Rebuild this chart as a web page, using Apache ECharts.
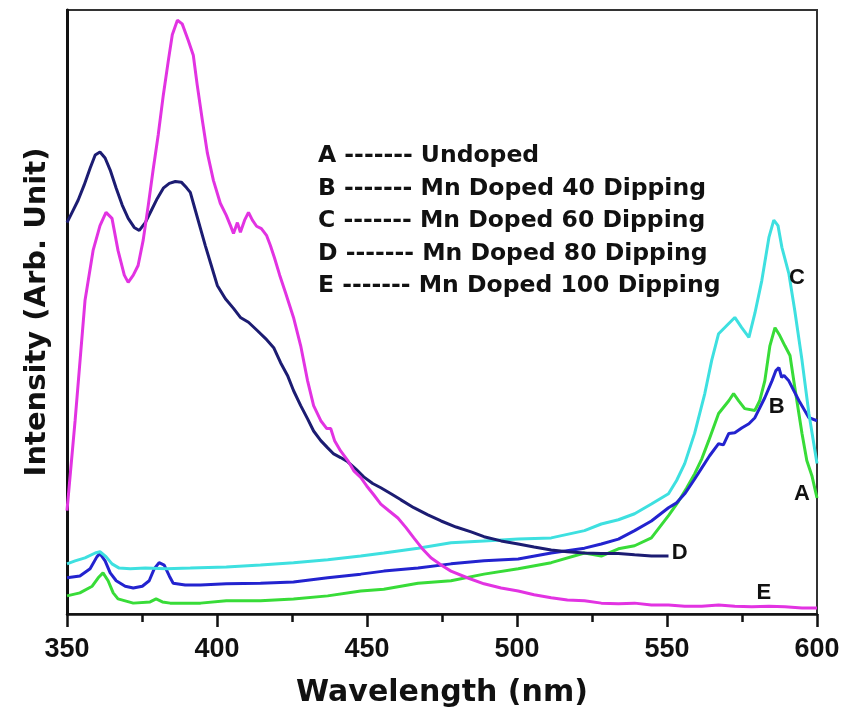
<!DOCTYPE html>
<html>
<head>
<meta charset="utf-8">
<script src="https://cdn.jsdelivr.net/npm/echarts@6/dist/echarts.min.js"></script>
<style>html,body{margin:0;padding:0;background:#fff}#main{width:845px;height:721px}</style>
</head>
<body>
<div id="main"></div>
<script>
// Wavelength ticks (nm)
const xTicks = [350, 400, 450, 500, 550, 600];

// A - Undoped (green)
const seriesA = [[350,3.0],[354.3,3.5],[358.4,4.6],[360.4,6.0],[362,6.8],[363.7,5.5],[365.4,3.5],[367,2.5],[372.1,1.8],[377.7,2.0],[379.7,2.5],[381.8,2.0],[384.4,1.8],[394.5,1.8],[403.1,2.2],[414.5,2.2],[425.5,2.5],[436.9,3.0],[447.9,3.8],[455.6,4.1],[467,5.1],[478,5.5],[489,6.6],[500.4,7.5],[511.4,8.5],[522.5,10.1],[528.1,9.6],[533.8,10.8],[539.2,11.3],[544.8,12.6],[550.5,16.3],[553.9,18.7],[556.6,20.9],[559.2,23.2],[561.6,25.7],[563.9,28.7],[567.2,33.2],[570.6,35.3],[572.2,36.5],[573.9,35.3],[575.9,34.0],[579.3,33.7],[580.9,35.3],[582.6,38.6],[584.3,44.4],[586,47.4],[587.6,46.1],[589.3,44.4],[591,42.8],[592.6,37.5],[595,29.9],[596.6,25.4],[598.3,22.9],[600,19.2]];

// B - Mn Doped 40 Dipping (blue)
const seriesB = [[350,6.0],[354.3,6.3],[357.7,7.5],[360,9.5],[361,10.0],[362.7,8.8],[364.4,6.8],[366.4,5.5],[369.4,4.6],[372.1,4.3],[375.1,4.6],[377.4,5.5],[379.1,7.5],[380.7,8.5],[382.4,8.1],[384.1,6.3],[385.4,5.1],[389.4,4.8],[394.5,4.8],[403.1,5.0],[414.5,5.1],[425.5,5.3],[436.9,6.0],[447.9,6.6],[455.6,7.1],[467,7.6],[478,8.3],[489,8.8],[500.4,9.1],[511.4,10.1],[522.5,10.9],[528.1,11.6],[533.8,12.4],[539.2,13.8],[544.8,15.4],[550.5,17.6],[553.2,18.4],[555.9,19.9],[558.9,22.1],[561.6,24.2],[564.2,26.2],[567.2,28.2],[568.8,28.0],[570.6,29.9],[572.6,30.0],[574.9,30.8],[577.3,31.5],[579.3,32.5],[582.6,35.8],[585,38.6],[586.3,40.3],[587.3,40.8],[588.2,39.2],[589,39.5],[590.6,38.6],[594,35.3],[597.3,32.5],[600,32.0]];

// C - Mn Doped 60 Dipping (cyan)
const seriesC = [[350,8.3],[352.7,8.8],[356,9.3],[359.4,10.1],[361,10.3],[363,9.5],[365,8.3],[367.4,7.6],[371.1,7.5],[376.1,7.6],[383.1,7.5],[391.1,7.6],[403.1,7.8],[414.5,8.1],[425.5,8.5],[436.9,9.0],[447.9,9.6],[455.6,10.1],[467,10.9],[478,11.8],[489,12.1],[500.4,12.4],[511.4,12.6],[522.5,13.8],[528.1,14.9],[533.8,15.6],[539.2,16.6],[544.8,18.2],[550.5,19.9],[553.2,22.1],[555.9,24.9],[559.2,29.9],[562.6,36.5],[564.9,42.0],[567.2,46.4],[570.6,48.1],[572.6,49.1],[574.9,47.4],[577.3,45.8],[579.3,49.8],[581.6,55.2],[584,62.4],[585.6,65.2],[587,64.3],[588.3,60.7],[590.6,56.4],[592.6,50.2],[595,42.0],[597.3,33.2],[600,24.9]];

// D - Mn Doped 80 Dipping (navy)
const seriesD = [[350,64.8],[351.7,66.5],[353.7,68.5],[355.7,71.0],[357.7,73.8],[359.4,76.0],[361,76.5],[362.7,75.5],[364.4,73.5],[366.4,70.5],[368.4,67.7],[370.4,65.5],[372.4,64.0],[374.1,63.5],[376.1,64.8],[378.1,66.8],[380.1,68.8],[382.1,70.5],[384.1,71.3],[386.1,71.6],[388.1,71.5],[389.8,70.6],[391.1,69.8],[392.8,66.8],[394.5,63.8],[396.1,61.0],[397.8,58.2],[400.1,54.4],[402.8,52.2],[405.5,50.6],[407.8,49.1],[410.5,48.3],[413.5,46.9],[416.2,45.6],[418.9,44.1],[421.2,41.6],[423.5,39.5],[425.5,37.0],[427.9,34.5],[430.2,32.3],[432.2,30.3],[434.6,28.7],[436.9,27.5],[438.9,26.5],[441.2,25.9],[443.6,25.2],[446.3,24.0],[448.9,22.7],[451.9,21.6],[454.6,20.9],[458,19.9],[461.3,18.9],[465.6,17.6],[470.3,16.4],[474.7,15.4],[479.7,14.4],[484.7,13.6],[489,12.8],[494.7,12.1],[500.4,11.6],[505.7,11.1],[511.4,10.6],[516.8,10.3],[522.5,10.1],[528.1,10.0],[533.8,10.0],[539.2,9.8],[544.8,9.6],[550.5,9.6]];

// E - Mn Doped 100 Dipping (magenta)
const seriesE = [[350,17.1],[352.7,32.0],[356,51.9],[358.7,60.2],[361,64.3],[363,66.5],[365,65.5],[367,60.2],[369.1,56.1],[370.4,54.9],[372.1,56.1],[373.7,57.7],[375.4,61.9],[377.1,67.7],[378.7,73.5],[380.4,79.3],[382.1,85.9],[383.8,91.7],[385.1,95.9],[386.8,98.3],[388.4,97.7],[390.4,95.0],[392.1,92.5],[393.4,87.6],[395.1,81.8],[396.8,76.3],[398.8,71.8],[401.1,68.0],[403.1,66.0],[404.5,64.3],[405.5,63.0],[406.8,64.8],[407.8,63.2],[409.2,65.2],[410.5,66.5],[411.8,65.2],[413.2,64.2],[414.8,63.8],[416.5,62.7],[417.8,61.0],[419.2,58.9],[420.9,56.1],[422.9,53.1],[425.5,49.1],[427.9,44.4],[430.2,38.6],[432.2,34.5],[434.6,32.0],[436.6,30.7],[437.9,30.7],[439.2,28.7],[441.2,27.0],[443.6,25.4],[445.6,23.7],[447.9,22.6],[449.9,21.2],[452.3,19.7],[454.6,18.2],[457.3,17.1],[460.3,15.9],[463,14.3],[465.6,12.6],[468.3,10.9],[471.3,9.3],[474.7,8.1],[478,7.1],[483.4,6.0],[489,5.0],[494.7,4.3],[500.4,3.8],[505.7,3.2],[511.4,2.7],[516.8,2.3],[522.5,2.2],[528.1,1.8],[533.8,1.7],[539.2,1.8],[544.8,1.5],[550.5,1.5],[555.9,1.3],[561.6,1.3],[567.2,1.5],[572.6,1.3],[578.3,1.2],[584,1.3],[589.3,1.2],[595,1.0],[600,1.0]];

// Curve tags
const tagNames = ['A', 'B', 'C', 'D', 'E'];
const tagX = [595.0, 586.6, 593.3, 554.2, 582.3];
const tagY = [19.9, 34.3, 55.6, 10.1, 3.5];

// Key text
const keyLines = [
  'A ------- Undoped',
  'B ------- Mn Doped 40 Dipping',
  'C ------- Mn Doped 60 Dipping',
  'D ------- Mn Doped 80 Dipping',
  'E ------- Mn Doped 100 Dipping'
];

const chart = echarts.init(document.getElementById('main'));
const lineSeries = (name, data, color) => ({
  name: name, type: 'line', data: data, showSymbol: false, symbol: 'none',
  lineStyle: { color: color, width: 3 }, itemStyle: { color: color }, z: 3
});
const axisColor = '#111';
chart.setOption({
  animation: false,
  backgroundColor: '#fff',
  grid: { left: 67, right: 28, top: 10, bottom: 107, show: true, borderColor: '#333', borderWidth: 2 },
  xAxis: {
    type: 'value', min: xTicks[0], max: xTicks[xTicks.length - 1], interval: 50,
    name: 'Wavelength (nm)', nameLocation: 'middle', nameGap: 64,
    nameTextStyle: { fontFamily: 'DejaVu Sans', fontWeight: 'bold', fontSize: 30, color: '#111' },
    axisLine: { lineStyle: { color: axisColor, width: 2.5 } },
    axisTick: { length: 13, lineStyle: { color: axisColor, width: 2.5 } },
    minorTick: { show: true, splitNumber: 2, length: 8, lineStyle: { color: axisColor, width: 2.5 } },
    axisLabel: { margin: 22, fontFamily: 'Liberation Sans', fontWeight: 'bold', fontSize: 27, color: '#111' },
    splitLine: { show: false }
  },
  yAxis: {
    type: 'value', min: 0, max: 100,
    name: 'Intensity (Arb. Unit)', nameLocation: 'middle', nameGap: 15,
    nameTextStyle: { fontFamily: 'DejaVu Sans', fontWeight: 'bold', fontSize: 29, color: '#111' },
    axisLine: { show: true, lineStyle: { color: axisColor, width: 3 } },
    axisTick: { show: false }, axisLabel: { show: false }, splitLine: { show: false }
  },
  graphic: [{
    type: 'text', left: 318, top: 140, z: 10,
    style: { text: keyLines.join('\n'), font: 'bold 23.5px "DejaVu Sans"', fill: '#111', lineHeight: 32.5 }
  }],
  series: [
    lineSeries('A', seriesA, '#38dc38'),
    lineSeries('B', seriesB, '#2323cf'),
    lineSeries('C', seriesC, '#3ee0e0'),
    lineSeries('D', seriesD, '#1c1c72'),
    lineSeries('E', seriesE, '#e233e2'),
    {
      type: 'scatter', symbolSize: 0, z: 5, silent: true,
      itemStyle: { opacity: 1, color: '#111' },
      data: tagNames.map((n, i) => ({ value: [tagX[i], tagY[i]], name: n })),
      label: { show: true, position: 'inside', formatter: p => p.name, opacity: 1,
        textBorderWidth: 0, fontFamily: 'Liberation Sans', fontWeight: 'bold', fontSize: 22, color: '#111' }
    }
  ]
});
</script>
</body>
</html>
